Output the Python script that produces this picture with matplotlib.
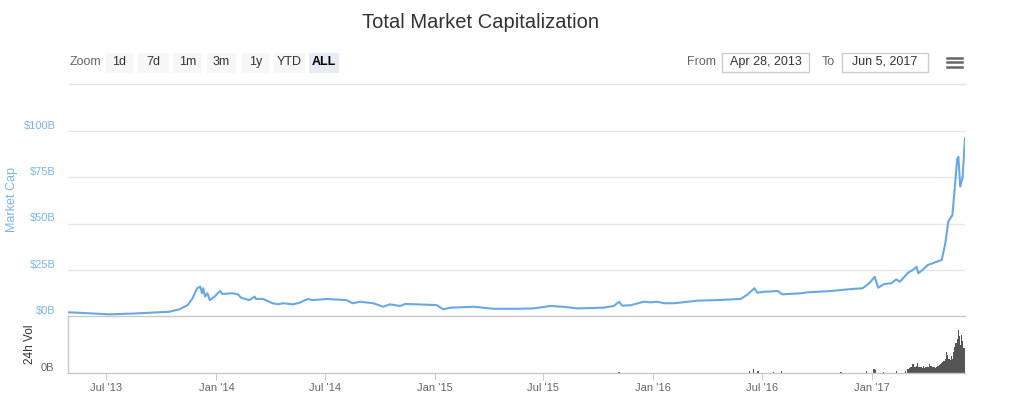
import matplotlib
matplotlib.use('Agg')
import matplotlib.pyplot as plt
import matplotlib.dates as mdates
from matplotlib.patches import Rectangle
from matplotlib.lines import Line2D
import numpy as np

plt.rcParams['font.family'] = ['Liberation Sans', 'DejaVu Sans']

# total market cap, billions USD
cap_dates = ['2013-04-28', '2013-05-25', '2013-07-06', '2013-08-20', '2013-10-14', '2013-10-31',
             '2013-11-14', '2013-11-22', '2013-11-30', '2013-12-05', '2013-12-08', '2013-12-10',
             '2013-12-13', '2013-12-17', '2013-12-21', '2013-12-29', '2014-01-07', '2014-01-11',
             '2014-01-28', '2014-02-06', '2014-02-11', '2014-02-25', '2014-03-06', '2014-03-08',
             '2014-03-20', '2014-04-05', '2014-04-14', '2014-04-22', '2014-05-09', '2014-05-20',
             '2014-06-03', '2014-06-11', '2014-07-04', '2014-08-06', '2014-08-17', '2014-08-29',
             '2014-09-20', '2014-10-07', '2014-10-18', '2014-11-04', '2014-11-12', '2014-12-02',
             '2015-01-04', '2015-01-15', '2015-01-27', '2015-03-07', '2015-04-09', '2015-05-18',
             '2015-06-15', '2015-07-13', '2015-08-04', '2015-08-27', '2015-10-10', '2015-10-27',
             '2015-11-05', '2015-11-10', '2015-11-24', '2015-12-16', '2015-12-28', '2016-01-08',
             '2016-01-19', '2016-02-05', '2016-03-15', '2016-04-17', '2016-05-26', '2016-06-07',
             '2016-06-18', '2016-06-23', '2016-07-04', '2016-07-27', '2016-08-04', '2016-09-04',
             '2016-09-15', '2016-10-24', '2016-11-21', '2016-12-16', '2016-12-27', '2017-01-05',
             '2017-01-11', '2017-01-21', '2017-02-02', '2017-02-10', '2017-02-16', '2017-03-02',
             '2017-03-10', '2017-03-16', '2017-03-19', '2017-03-27', '2017-04-04', '2017-04-27',
             '2017-05-03', '2017-05-08', '2017-05-15', '2017-05-18', '2017-05-23', '2017-05-25',
             '2017-05-28', '2017-06-01', '2017-06-05']
cap_values = [2.0, 1.6, 0.9, 1.4, 2.3, 3.6,
              5.9, 9.5, 15.0, 15.9, 12.3, 15.0,
              10.5, 12.3, 8.6, 10.5, 13.5, 11.9,
              12.3, 11.7, 9.9, 8.6, 10.5, 9.2,
              9.2, 6.9, 6.3, 6.9, 6.3, 7.2,
              9.2, 8.6, 9.2, 8.6, 6.9, 7.7,
              6.9, 5.0, 6.3, 5.4, 6.5, 6.3,
              5.9, 3.6, 4.5, 5.0, 3.9, 3.9,
              4.1, 5.4, 5.0, 4.1, 4.5, 5.4,
              7.7, 5.6, 5.8, 7.7, 7.4, 7.7,
              6.9, 6.9, 8.3, 8.6, 9.2, 11.7,
              15.0, 12.6, 13.1, 13.5, 11.7, 12.3,
              12.8, 13.5, 14.4, 15.0, 17.7, 21.2,
              15.3, 17.3, 17.7, 19.8, 18.5, 23.4,
              24.9, 26.6, 23.1, 25.2, 27.6, 30.3,
              39.0, 51.0, 54.6, 66.0, 85.0, 86.0,
              70.0, 75.0, 96.0]

# 24h volume, billions USD
vol_dates = ['2015-11-05', '2016-06-10', '2016-06-17', '2016-06-24', '2016-07-20', '2016-08-02',
             '2016-11-10', '2016-12-22', '2017-01-04', '2017-01-06', '2017-01-20', '2017-02-10',
             '2017-02-25', '2017-03-02', '2017-03-04', '2017-03-06', '2017-03-08', '2017-03-10',
             '2017-03-12', '2017-03-14', '2017-03-16', '2017-03-18', '2017-03-20', '2017-03-22',
             '2017-03-24', '2017-03-26', '2017-03-28', '2017-03-30', '2017-04-01', '2017-04-03',
             '2017-04-05', '2017-04-07', '2017-04-09', '2017-04-11', '2017-04-13', '2017-04-15',
             '2017-04-17', '2017-04-19', '2017-04-21', '2017-04-23', '2017-04-25', '2017-04-27',
             '2017-04-29', '2017-05-01', '2017-05-03', '2017-05-05', '2017-05-07', '2017-05-09',
             '2017-05-11', '2017-05-13', '2017-05-15', '2017-05-17', '2017-05-19', '2017-05-21',
             '2017-05-23', '2017-05-24', '2017-05-25', '2017-05-26', '2017-05-27', '2017-05-28',
             '2017-05-29', '2017-05-30', '2017-05-31', '2017-06-01', '2017-06-02', '2017-06-03',
             '2017-06-04', '2017-06-05']
vol_values = [0.15, 0.3, 0.5, 0.3, 0.2, 0.3,
              0.15, 0.3, 0.6, 0.4, 0.2, 0.25,
              0.35, 0.6, 0.7, 0.9, 0.8, 1.2,
              0.8, 0.9, 1.0, 1.4, 0.9, 0.8,
              0.8, 0.7, 1.0, 0.7, 0.9, 0.8,
              0.8, 1.3, 1.0, 0.8, 0.9, 0.8,
              0.7, 0.9, 1.0, 1.1, 1.2, 1.4,
              1.6, 1.7, 1.9, 3.0, 2.5, 2.0,
              1.8, 2.4, 2.0, 3.0, 3.6, 4.2,
              3.5, 4.8, 6.0, 5.2, 4.2, 3.0,
              4.0, 5.3, 4.5, 3.8, 3.2, 3.5,
              2.9, 3.5]

x_ticks = ['2013-07-01', '2014-01-01', '2014-07-01', '2015-01-01',
           '2015-07-01', '2016-01-01', '2016-07-01', '2017-01-01']
x_tick_labels = ["Jul '13", "Jan '14", "Jul '14", "Jan '15",
                 "Jul '15", "Jan '16", "Jul '16", "Jan '17"]
cap_ticks = [0, 25, 50, 75, 100]
cap_tick_labels = ['$0B', '$25B', '$50B', '$75B', '$100B']
zoom_buttons = ['1d', '7d', '1m', '3m', '1y', 'YTD', 'ALL']
date_from = 'Apr 28, 2013'
date_to = 'Jun 5, 2017'

W, H = 1024, 399
LINE = '#6aa8e2'
BLUE_TXT = '#7cb5ec'


def fx(x):
    return x / W


def fy(y):
    return 1 - y / H


def d2n(lst):
    return mdates.date2num(np.array(lst, dtype='datetime64[D]'))


fig = plt.figure(figsize=(W / 100, H / 100), dpi=100)
fig.patch.set_facecolor('white')

x0, x1 = 68, 965
ax = fig.add_axes([fx(x0), fy(316), (x1 - x0) / W, (316 - 131) / H])
vax = fig.add_axes([fx(x0), fy(373), (x1 - x0) / W, (373 - 316) / H])

xlim = d2n(['2013-04-28', '2017-06-05'])

# main panel
ax.plot(d2n(cap_dates), cap_values, color=LINE, lw=1.5)
ax.set_xlim(xlim)
ax.set_ylim(0, 100)
ax.set_yticks(cap_ticks)
ax.set_yticklabels(cap_tick_labels)
plt.setp(ax.get_yticklabels(), va='bottom')
ax.tick_params(axis='y', length=0, pad=9, labelsize=8, labelcolor=BLUE_TXT)
ax.set_xticks([])
for v in cap_ticks[1:]:
    ax.axhline(v, color='#e6e6e6', lw=1, zorder=0)
for s in ax.spines.values():
    s.set_visible(False)

# volume panel
vax.bar(d2n(vol_dates), vol_values, width=2.2, color='#555555', linewidth=0)
vax.set_xlim(xlim)
vax.set_ylim(0, 8)
vax.set_yticks([0])
vax.set_yticklabels(['0B'])
plt.setp(vax.get_yticklabels(), va='bottom')
vax.tick_params(axis='y', length=0, pad=10, labelsize=8, labelcolor='#666666')
vax.set_xticks(d2n(x_ticks))
vax.set_xticklabels(x_tick_labels)
vax.tick_params(axis='x', direction='out', length=5, width=0.8, color='#cccccc',
                labelsize=8, labelcolor='#666666', pad=2)
for name, s in vax.spines.items():
    s.set_color('#c8c8c8')
    s.set_linewidth(1)
vax.spines['right'].set_visible(False)

fig.text(fx(12), fy(200), 'Market Cap', rotation=90, ha='center', va='center',
         color=BLUE_TXT, fontsize=9)
fig.text(fx(30), fy(344), '24h Vol', rotation=90, ha='center', va='center',
         color='#333333', fontsize=8.5)

# title
fig.text(fx(481), fy(22), 'Total Market Capitalization', ha='center', va='center',
         fontsize=14.5, color='#333333')

# range selector
fig.text(fx(85), fy(62), 'Zoom', ha='center', va='center', fontsize=9, color='#666666')
btn_left = [105, 138, 173, 207, 242, 274, 309]
btn_right = [133, 169, 202, 236, 269, 305, 339]
for name, l, r in zip(zoom_buttons, btn_left, btn_right):
    active = name == 'ALL'
    fig.add_artist(Rectangle((fx(l), fy(73)), (r - l) / W, 20 / H,
                             transform=fig.transFigure,
                             facecolor='#e6ebf5' if active else '#f7f7f7',
                             edgecolor='none'))
    fig.text(fx((l + r) / 2), fy(62), name, ha='center', va='center', fontsize=9,
             color='#000000' if active else '#333333',
             fontweight='bold' if active else 'normal')

fig.text(fx(702), fy(62), 'From', ha='center', va='center', fontsize=9, color='#666666')
fig.text(fx(828), fy(62), 'To', ha='center', va='center', fontsize=9, color='#666666')
for (l, r), txt in zip([(722, 809), (842, 928)], [date_from, date_to]):
    fig.add_artist(Rectangle((fx(l), fy(72)), (r - l) / W, 19 / H,
                             transform=fig.transFigure,
                             facecolor='white', edgecolor='#cccccc', lw=1))
    fig.text(fx((l + r) / 2), fy(62), txt, ha='center', va='center', fontsize=9,
             color='#333333')

# menu icon
for yy in [57.5, 62, 66.5]:
    fig.add_artist(Line2D([fx(947), fx(962)], [fy(yy), fy(yy)],
                          transform=fig.transFigure, color='#666666', lw=1.8))

# separator under selector
fig.add_artist(Line2D([fx(70), fx(965)], [fy(84), fy(84)],
                      transform=fig.transFigure, color='#e0e0e0', lw=1))

fig.savefig('out.png', dpi=100)
